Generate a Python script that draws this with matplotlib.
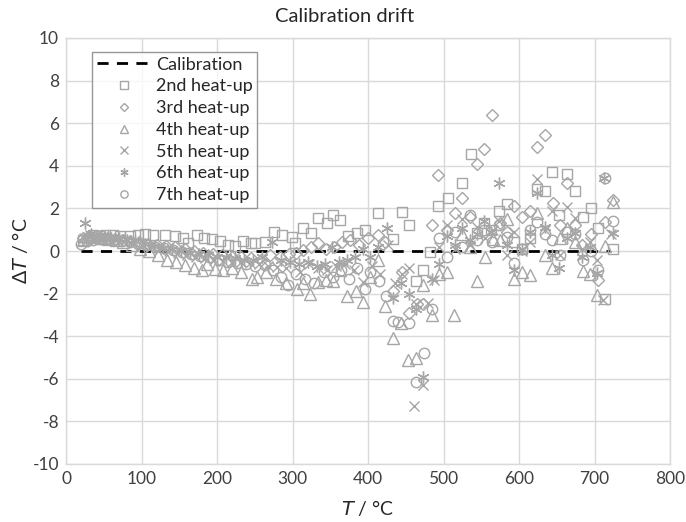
import matplotlib
matplotlib.use("Agg")
import matplotlib.pyplot as plt

plt.rcParams['font.family'] = ['Lato', 'DejaVu Sans']
plt.rcParams['axes.unicode_minus'] = False

# Calibration reference line
T_cal = [20, 720]
dT_cal = [0, 0]

# 2nd heat-up (squares)
T2 = [22, 30, 36, 44, 52, 62, 72, 85, 95, 105,
      115, 131, 144, 155, 162, 173, 183, 193, 204, 215,
      224, 234, 245, 250, 263, 275, 286, 299, 303, 314,
      325, 334, 346, 354, 363, 374, 385, 396, 413, 433,
      445, 454, 464, 473, 482, 493, 506, 524, 537, 544,
      553, 563, 573, 584, 594, 604, 614, 624, 634, 644,
      653, 664, 674, 685, 695, 705, 714, 724]
dT2 = [0.5, 0.6, 0.75, 0.7, 0.75, 0.75, 0.7, 0.7, 0.75, 0.8,
       0.75, 0.75, 0.7, 0.6, 0.37, 0.75, 0.6, 0.55, 0.47, 0.28,
       0.23, 0.47, 0.37, 0.37, 0.43, 0.9, 0.75, 0.67, 0.37, 1.1,
       0.85, 1.55, 1.3, 1.7, 1.45, 0.7, 0.83, 0.98, 1.8, 0.55,
       1.85, 1.2, -1.4, -0.9, -0.03, 2.1, 2.5, 3.2, 4.55, 0.85,
       1.3, 1.0, 1.9, 2.2, 0.4, 0.1, 0.6, 2.9, 2.8, 3.7,
       1.7, 3.6, 2.8, 1.6, 2.0, 1.1, -2.25, 0.1]

# 3rd heat-up (diamonds)
T3 = [22, 30, 38, 46, 55, 65, 75, 85, 97, 108,
      120, 132, 145, 157, 170, 182, 195, 207, 220, 232,
      245, 258, 270, 283, 295, 305, 314, 324, 334, 345,
      355, 366, 376, 388, 400, 413, 423, 433, 445, 454,
      465, 473, 485, 493, 505, 515, 524, 535, 544, 553,
      564, 575, 584, 594, 604, 614, 624, 634, 645, 654,
      664, 674, 684, 695, 705, 714, 724]
dT3 = [0.6, 0.7, 0.65, 0.6, 0.6, 0.55, 0.5, 0.45, 0.4, 0.35,
       0.3, 0.25, 0.2, 0.1, 0.0, -0.1, -0.15, -0.2, -0.3, -0.3,
       -0.35, -0.4, -0.2, -0.3, -0.15, -0.1, 0.05, 0.2, 0.38, 0.1,
       0.2, 0.4, 0.5, 0.3, 0.6, 0.75, 0.4, -1.9, -1.0, -2.9,
       -2.5, -2.5, 1.2, 3.55, 1.0, 1.8, 2.5, 1.6, 4.1, 4.8,
       6.4, 1.3, 0.9, 2.1, 1.6, 1.9, 4.9, 5.45, 2.25, 1.2,
       3.2, 1.2, 0.3, 0.8, -1.35, 1.35, 2.4]

# 4th heat-up (triangles)
T4 = [22, 30, 38, 47, 56, 66, 76, 87, 98, 110,
      122, 134, 146, 158, 170, 180, 187, 198, 208, 220,
      232, 246, 253, 265, 278, 292, 306, 314, 323, 334,
      344, 354, 363, 372, 384, 394, 403, 413, 422, 433,
      444, 453, 464, 473, 485, 494, 505, 514, 524, 535,
      544, 555, 565, 575, 584, 594, 604, 614, 624, 634,
      644, 654, 664, 674, 685, 694, 703, 714, 724]
dT4 = [0.5, 0.7, 0.65, 0.6, 0.55, 0.5, 0.4, 0.3, 0.1, 0.0,
       -0.2, -0.4, -0.5, -0.65, -0.8, -0.9, -0.6, -0.85, -0.9, -0.8,
       -1.0, -1.3, -1.2, -1.0, -1.3, -1.5, -1.8, -1.5, -2.0, -1.45,
       -1.35, -1.4, -0.9, -2.1, -1.9, -2.4, -1.2, -0.4, -2.6, -4.1,
       -3.4, -5.1, -5.0, -1.6, -3.0, -1.1, -1.0, -3.0, 0.8, 0.2,
       -1.4, -0.3, 0.55, 0.5, 1.5, -1.3, -1.0, -1.15, 1.8, -0.2,
       -0.8, 0.6, 1.1, 0.4, -0.95, -1.1, -2.05, 0.25, 2.3]

# 5th heat-up (crosses)
T5 = [24, 32, 40, 49, 58, 68, 79, 90, 101, 112,
      124, 136, 148, 160, 172, 184, 196, 208, 220, 232,
      244, 256, 268, 280, 292, 310, 322, 334, 346, 358,
      370, 382, 394, 405, 416, 426, 436, 445, 454, 461,
      464, 473, 480, 487, 494, 505, 515, 524, 535, 544,
      555, 565, 574, 584, 594, 604, 614, 624, 634, 644,
      654, 664, 674, 684, 694, 703, 711, 722]
dT5 = [0.6, 0.75, 0.7, 0.65, 0.6, 0.55, 0.5, 0.4, 0.3, 0.2,
       0.1, 0.0, -0.1, -0.2, -0.3, -0.35, -0.4, -0.45, -0.5, -0.5,
       -0.55, -0.6, -0.7, -0.75, -0.8, -1.0, -0.6, -0.8, -0.9, -0.7,
       -0.6, -0.9, -1.45, -0.7, -1.1, 0.3, -1.5, -1.1, -0.8, -7.3,
       -2.5, -6.3, -2.45, -1.35, 0.2, 1.2, 0.1, 1.5, 0.3, 1.15,
       0.6, 1.0, 1.4, -0.2, 0.9, 0.0, 0.4, 3.4, 1.0, 1.9,
       -0.2, 2.05, 1.55, 0.1, 0.4, -0.4, -2.3, 0.8]

# 6th heat-up (asterisks)
T6 = [25, 33, 42, 51, 60, 70, 81, 92, 104, 116,
      128, 140, 152, 164, 176, 188, 200, 212, 224, 236,
      248, 260, 273, 285, 297, 309, 321, 333, 343, 352,
      362, 372, 383, 393, 403, 413, 425, 433, 444, 454,
      464, 473, 485, 494, 505, 515, 524, 535, 544, 553,
      563, 573, 584, 594, 604, 614, 624, 634, 644, 653,
      664, 674, 684, 694, 703, 712, 724]
dT6 = [1.3, 0.8, 0.7, 0.65, 0.6, 0.6, 0.5, 0.45, 0.35, 0.25,
       0.15, 0.1, 0.0, -0.1, -0.15, -0.2, -0.3, -0.3, -0.35, -0.4,
       -0.4, -0.3, 0.4, -0.4, -0.5, -0.6, -0.5, -0.7, -0.6, 0.2,
       -0.5, -0.4, -0.3, 0.1, -0.3, 0.2, 1.1, -2.2, -1.5, -2.0,
       -2.7, -5.9, -1.3, -0.6, 0.7, 0.3, 1.1, 0.5, 0.8, 1.4,
       0.9, 3.2, 0.3, -0.9, 0.1, 0.9, 2.7, 1.15, -0.2, -0.8,
       0.6, 0.85, -0.3, 0.2, -1.05, 3.45, 0.85]

# 7th heat-up (circles)
T7 = [20, 28, 36, 45, 54, 64, 74, 85, 96, 107,
      118, 130, 142, 154, 166, 178, 190, 202, 214, 226,
      238, 250, 263, 274, 285, 294, 305, 316, 328, 342,
      353, 364, 375, 385, 396, 403, 414, 424, 433, 440,
      454, 464, 474, 485, 494, 505, 515, 524, 535, 544,
      554, 564, 574, 584, 594, 604, 614, 624, 634, 644,
      654, 664, 674, 685, 695, 705, 714, 724]
dT7 = [0.35, 0.45, 0.5, 0.55, 0.55, 0.5, 0.45, 0.4, 0.35, 0.3,
       0.2, 0.15, 0.05, -0.05, -0.15, -0.25, -0.3, -0.4, -0.5, -0.55,
       -0.6, -0.7, -0.65, -0.9, -1.2, -1.6, -1.1, -1.3, -1.5, -1.0,
       -1.2, -0.9, -1.3, -0.8, -1.8, -1.0, -1.4, -2.1, -3.3, -3.35,
       -3.4, -6.15, -4.8, -2.7, 0.6, -0.3, 0.9, 0.2, 1.7, 0.5,
       1.0, 0.4, 1.2, 0.65, -0.55, 0.1, 1.0, 1.35, 0.8, 0.5,
       -0.2, 0.9, 0.8, -0.4, 0.0, -0.9, 3.45, 1.4]

labels = ["2nd heat-up", "3rd heat-up", "4th heat-up",
          "5th heat-up", "6th heat-up", "7th heat-up"]

GRAY = '#a6a6a6'
GRID = '#d9d9d9'

fig = plt.figure(figsize=(6.86, 5.22), dpi=100)
ax = fig.add_axes([66/686, 1 - 464/522, (670-66)/686, (464-38)/522])

ax.plot(T_cal, dT_cal, color='black', lw=2.0, ls=(0, (4, 3)), label='Calibration', zorder=2)

series = [(T2, dT2, 's', 7.5), (T3, dT3, 'D', 6.0), (T4, dT4, '^', 8.0),
          (T5, dT5, 'x', 7.5), (T6, dT6, (6, 2, 0), 8.5), (T7, dT7, 'o', 7.5)]
for (tx, ty, mk, ms), lab in zip(series, labels):
    ax.plot(tx, ty, ls='none', marker=mk, ms=ms, mfc='none', mec=GRAY,
            mew=1.0, label=lab, zorder=3)

ax.set_xlim(0, 800)
ax.set_ylim(-10, 10)
ax.set_xticks(range(0, 801, 100))
ax.set_yticks(range(-10, 11, 2))
ax.grid(True, color=GRID, lw=1.0)
ax.set_axisbelow(True)
for s in ax.spines.values():
    s.set_color(GRID)
    s.set_linewidth(1.0)
ax.tick_params(length=0, labelsize=12.5, colors='#404040', pad=5)

fig.text(345/686, 1 - 17/522, 'Calibration drift', ha='center', va='center', fontsize=14.5, color='#262626')
fig.text(368/686, 1 - 508/522, r'$T$ / °C', ha='center', va='center', fontsize=14, color='#262626')
fig.text(20/686, 0.5 + (261-251)/522, r'Δ$T$ / °C', ha='center', va='center', rotation=90, fontsize=14, color='#262626')

leg = ax.legend(loc='upper left', bbox_to_anchor=((92-66)/604, (464-52)/426),
                fontsize=13, frameon=True, fancybox=False, markerscale=0.7,
                handlelength=3.0, borderpad=0.25, labelspacing=0.32, handletextpad=0.3,
                borderaxespad=0)
leg.get_frame().set_edgecolor('#7f7f7f')
leg.get_frame().set_linewidth(1.0)
for t in leg.get_texts():
    t.set_color('#262626')

fig.savefig('out.png', dpi=100)
